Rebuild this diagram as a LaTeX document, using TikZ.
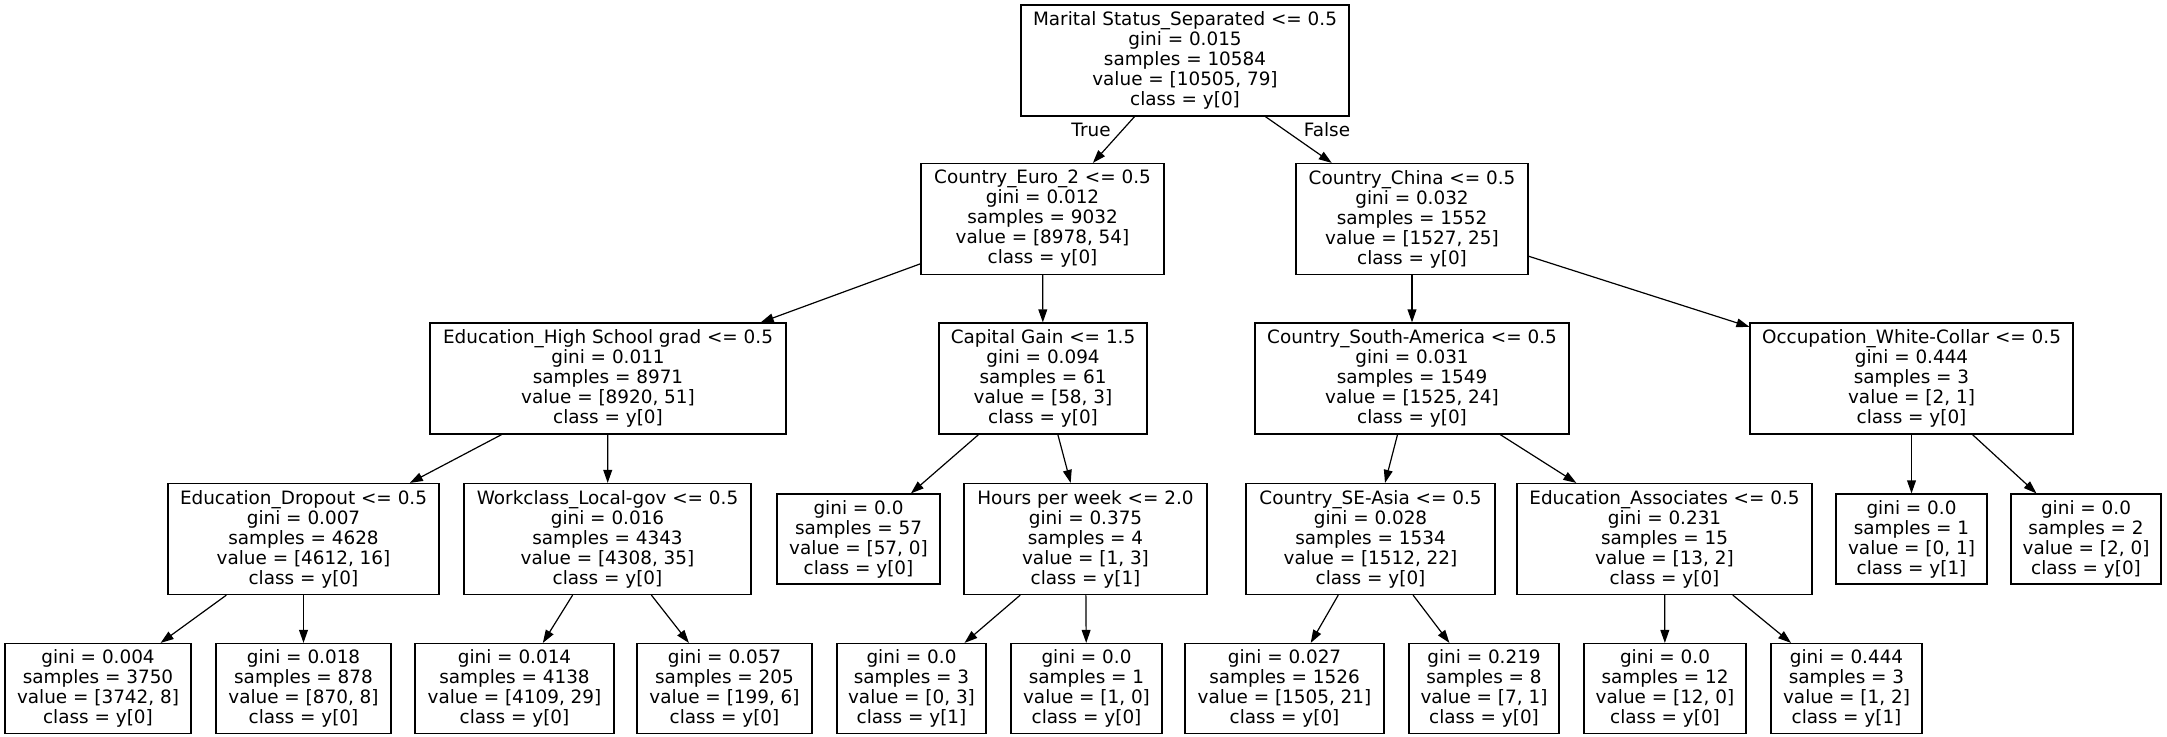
\documentclass[tikz,border=0pt]{standalone}
\usepackage{fontspec}
\setmainfont{DejaVu Sans}
\usetikzlibrary{arrows.meta}

\begin{document}
\begin{tikzpicture}[x=0.5pt,y=-0.5pt,
	every node/.style={font=\fontsize{9.2}{10}\selectfont},
	split/.style={draw,line width=0.6pt,align=center,inner sep=0pt,minimum height=55.5pt},
	leaf/.style={draw,line width=0.6pt,align=center,inner sep=0pt,minimum height=45pt},
	arr/.style={line width=0.6pt,-{Triangle[length=6.5pt,width=4.4pt]}}]
		\useasboundingbox (0,0) rectangle (2167,736);
		% depth 0
		\node [split,minimum width=164pt] (sep) at (1185,60.5) {Marital Status\_Separated <= 0.5\\gini = 0.015\\samples = 10584\\value = [10505, 79]\\class = y[0]};
		% depth 1
		\node [split,minimum width=121.5pt] (euro) at (1042.5,219) {Country\_Euro\_2 <= 0.5\\gini = 0.012\\samples = 9032\\value = [8978, 54]\\class = y[0]};
		\node [split,minimum width=116pt] (china) at (1412,219) {Country\_China <= 0.5\\gini = 0.032\\samples = 1552\\value = [1527, 25]\\class = y[0]};
		\node (lbltrue) at (1091,130) {True};
		\node (lblfalse) at (1327,130) {False};
		% depth 2
		\node [split,minimum width=178pt] (hsgrad) at (608,378.5) {Education\_High School grad <= 0.5\\gini = 0.011\\samples = 8971\\value = [8920, 51]\\class = y[0]};
		\node [split,minimum width=104pt] (gain) at (1043,378.5) {Capital Gain <= 1.5\\gini = 0.094\\samples = 61\\value = [58, 3]\\class = y[0]};
		\node [split,minimum width=157pt] (samerica) at (1412,378.5) {Country\_South-America <= 0.5\\gini = 0.031\\samples = 1549\\value = [1525, 24]\\class = y[0]};
		\node [split,minimum width=161.5pt] (collar) at (1911.5,378.5) {Occupation\_White-Collar <= 0.5\\gini = 0.444\\samples = 3\\value = [2, 1]\\class = y[0]};
		% depth 3
		\node [split,minimum width=135.5pt] (dropout) at (303.5,539) {Education\_Dropout <= 0.5\\gini = 0.007\\samples = 4628\\value = [4612, 16]\\class = y[0]};
		\node [split,minimum width=143.5pt] (localgov) at (607.5,539) {Workclass\_Local-gov <= 0.5\\gini = 0.016\\samples = 4343\\value = [4308, 35]\\class = y[0]};
		\node [leaf,minimum width=81.5pt] (gainyes) at (858.5,539) {gini = 0.0\\samples = 57\\value = [57, 0]\\class = y[0]};
		\node [split,minimum width=121.5pt] (hours) at (1085.5,539) {Hours per week <= 2.0\\gini = 0.375\\samples = 4\\value = [1, 3]\\class = y[1]};
		\node [split,minimum width=124.5pt] (seasia) at (1370.5,539) {Country\_SE-Asia <= 0.5\\gini = 0.028\\samples = 1534\\value = [1512, 22]\\class = y[0]};
		\node [split,minimum width=147.5pt] (assoc) at (1664.5,539) {Education\_Associates <= 0.5\\gini = 0.231\\samples = 15\\value = [13, 2]\\class = y[0]};
		\node [leaf,minimum width=75.5pt] (collaryes) at (1911.5,539) {gini = 0.0\\samples = 1\\value = [0, 1]\\class = y[1]};
		\node [leaf,minimum width=75pt] (collarno) at (2086,539) {gini = 0.0\\samples = 2\\value = [2, 0]\\class = y[0]};
		% depth 4
		\node [leaf,minimum width=93pt] (dropyes) at (98,688.5) {gini = 0.004\\samples = 3750\\value = [3742, 8]\\class = y[0]};
		\node [leaf,minimum width=87.5pt] (dropno) at (303.5,688.5) {gini = 0.018\\samples = 878\\value = [870, 8]\\class = y[0]};
		\node [leaf,minimum width=99.5pt] (govyes) at (514.5,688.5) {gini = 0.014\\samples = 4138\\value = [4109, 29]\\class = y[0]};
		\node [leaf,minimum width=87.5pt] (govno) at (724.5,688.5) {gini = 0.057\\samples = 205\\value = [199, 6]\\class = y[0]};
		\node [leaf,minimum width=74.5pt] (hoursyes) at (911.5,688.5) {gini = 0.0\\samples = 3\\value = [0, 3]\\class = y[1]};
		\node [leaf,minimum width=75.5pt] (hoursno) at (1086.5,688.5) {gini = 0.0\\samples = 1\\value = [1, 0]\\class = y[0]};
		\node [leaf,minimum width=99.5pt] (asiayes) at (1284.5,688.5) {gini = 0.027\\samples = 1526\\value = [1505, 21]\\class = y[0]};
		\node [leaf,minimum width=75pt] (asiano) at (1484,688.5) {gini = 0.219\\samples = 8\\value = [7, 1]\\class = y[0]};
		\node [leaf,minimum width=81pt] (assocyes) at (1665,688.5) {gini = 0.0\\samples = 12\\value = [12, 0]\\class = y[0]};
		\node [leaf,minimum width=75.5pt] (assocno) at (1846.5,688.5) {gini = 0.444\\samples = 3\\value = [1, 2]\\class = y[1]};
		% edges
		\draw [arr] (sep) -- (euro);
		\draw [arr] (sep) -- (china);
		\draw [arr] (euro) -- (hsgrad);
		\draw [arr] (euro) -- (gain);
		\draw [arr] (china) -- (samerica);
		\draw [arr] (china) -- (collar);
		\draw [arr] (hsgrad) -- (dropout);
		\draw [arr] (hsgrad) -- (localgov);
		\draw [arr] (gain) -- (gainyes);
		\draw [arr] (gain) -- (hours);
		\draw [arr] (samerica) -- (seasia);
		\draw [arr] (samerica) -- (assoc);
		\draw [arr] (collar) -- (collaryes);
		\draw [arr] (collar) -- (collarno);
		\draw [arr] (dropout) -- (dropyes);
		\draw [arr] (dropout) -- (dropno);
		\draw [arr] (localgov) -- (govyes);
		\draw [arr] (localgov) -- (govno);
		\draw [arr] (hours) -- (hoursyes);
		\draw [arr] (hours) -- (hoursno);
		\draw [arr] (seasia) -- (asiayes);
		\draw [arr] (seasia) -- (asiano);
		\draw [arr] (assoc) -- (assocyes);
		\draw [arr] (assoc) -- (assocno);
	\end{tikzpicture}
\end{document}
